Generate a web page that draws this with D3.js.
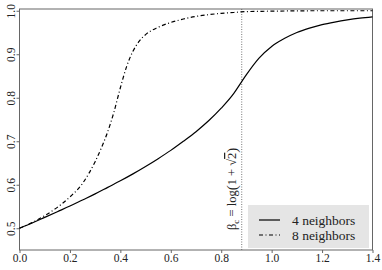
<!DOCTYPE html>
<html><head><meta charset="utf-8">
<script src="https://cdn.jsdelivr.net/npm/d3@7"></script>
<style>body{margin:0;background:#fff}svg{display:block}svg text{font-family:"Liberation Serif",serif !important}</style>
</head><body><svg id="c" width="382" height="270"></svg>
<script>
const FONT = "'Liberation Serif', serif";
const xTicks = [0.0,0.2,0.4,0.6,0.8,1.0,1.2,1.4];
const yTicks = [0.5,0.6,0.7,0.8,0.9,1.0];
const seriesNames = ["4 neighbors","8 neighbors"];
const betaC = Math.log(1+Math.SQRT2);
const beta4 = [0,0.05,0.1,0.15,0.2,0.25,0.3,0.35,0.4,0.45,0.5,0.55,0.6,0.65,0.7,0.75,0.8,0.85,0.88,0.9,0.95,1.0,1.05,1.1,1.15,1.2,1.25,1.3,1.35,1.4];
const vals4 = [0.500,0.512,0.525,0.538,0.551,0.565,0.579,0.594,0.609,0.625,0.642,0.660,0.679,0.700,0.722,0.747,0.776,0.810,0.836,0.853,0.891,0.918,0.936,0.950,0.960,0.968,0.974,0.979,0.983,0.986];
const beta8 = [0,0.05,0.1,0.15,0.2,0.25,0.275,0.3,0.325,0.35,0.375,0.4,0.425,0.45,0.475,0.5,0.55,0.6,0.65,0.7,0.75,0.8,0.85,0.9,1.0,1.2,1.4];
const vals8 = [0.500,0.513,0.529,0.548,0.572,0.603,0.626,0.653,0.685,0.722,0.768,0.823,0.872,0.907,0.930,0.945,0.962,0.973,0.981,0.987,0.991,0.994,0.996,0.998,0.999,1.000,1.000];

const svg = d3.select("#c");
const x = d3.scaleLinear().domain([0,1.4]).range([19.5,372.5]);
const y = d3.scaleLinear().domain([0.45,1.004]).range([250,9]);
const axisCol = "#666";

// legend background
svg.append("rect").attr("x",248).attr("y",205).attr("width",121).attr("height",43).attr("fill","#e5e5e5");

// box
svg.append("rect").attr("x",x(0)).attr("y",y(1.004)).attr("width",x(1.4)-x(0)).attr("height",y(0.45)-y(1.004))
  .attr("fill","none").attr("stroke",axisCol).attr("stroke-width",1);

// x axis
const gx = svg.append("g").attr("transform",`translate(0,${y(0.45)})`)
  .call(d3.axisBottom(x).tickValues(xTicks).tickFormat(d3.format(".1f")).tickSize(3).tickSizeOuter(0));
gx.attr("font-family",FONT);
gx.select(".domain").remove();
gx.selectAll("line").attr("stroke",axisCol);
gx.selectAll("text").attr("font-size",11.5).attr("fill","#222").attr("dy",null).attr("y",12).style("font-family",FONT);

// y axis
const gy = svg.append("g").attr("transform",`translate(${x(0)},0)`)
  .call(d3.axisLeft(y).tickValues(yTicks).tickFormat(d3.format(".1f")).tickSize(3).tickSizeOuter(0));
gy.attr("font-family",FONT);
gy.select(".domain").remove();
gy.selectAll("line").attr("stroke",axisCol);
gy.selectAll("text").attr("font-size",11.5).attr("fill","#222").style("font-family",FONT)
  .attr("x",null).attr("dy",null).attr("text-anchor","middle")
  .attr("transform","translate(-5,0) rotate(-90)").attr("y",0);

// beta_c line
svg.append("line").attr("x1",x(betaC)).attr("x2",x(betaC)).attr("y1",y(1.004)).attr("y2",y(0.45))
  .attr("stroke","#555").attr("stroke-width",0.8).attr("stroke-dasharray","1,1.5");

const line = d3.line().x(d=>x(d[0])).y(d=>y(d[1])).curve(d3.curveMonotoneX);
svg.append("path").datum(beta4.map((b,i)=>[b,vals4[i]])).attr("d",line)
  .attr("fill","none").attr("stroke","#000").attr("stroke-width",1.2);
svg.append("path").datum(beta8.map((b,i)=>[b,vals8[i]])).attr("d",line)
  .attr("fill","none").attr("stroke","#000").attr("stroke-width",1.2).attr("stroke-dasharray","4,2.5,1,2.5");

// rotated label
const lab = svg.append("text").attr("transform",`translate(236,230) rotate(-90)`).attr("font-size",12.5).attr("fill","#222").style("font-family",FONT);
lab.append("tspan").text("β");
lab.append("tspan").text("c").attr("font-size",9).attr("dy",3);
lab.append("tspan").text(" = log").attr("dy",-3);
lab.append("tspan").text("(").attr("font-size",15).attr("dy",1);
lab.append("tspan").text("1 + √").attr("dy",-1);
lab.append("tspan").text("2").style("text-decoration","overline");
lab.append("tspan").text(")").attr("font-size",15).attr("dy",1);

// legend
const leg = [[220,null],[235,"4,2.5,1,2.5"]];
leg.forEach((l,i)=>{
  svg.append("line").attr("x1",259).attr("x2",280).attr("y1",l[0]).attr("y2",l[0])
    .attr("stroke","#000").attr("stroke-width",1.2).attr("stroke-dasharray",l[1]);
  svg.append("text").attr("x",292).attr("y",l[0]+4.5).attr("font-size",13.5).attr("fill","#222").style("font-family",FONT).text(seriesNames[i]);
});
</script></body></html>
